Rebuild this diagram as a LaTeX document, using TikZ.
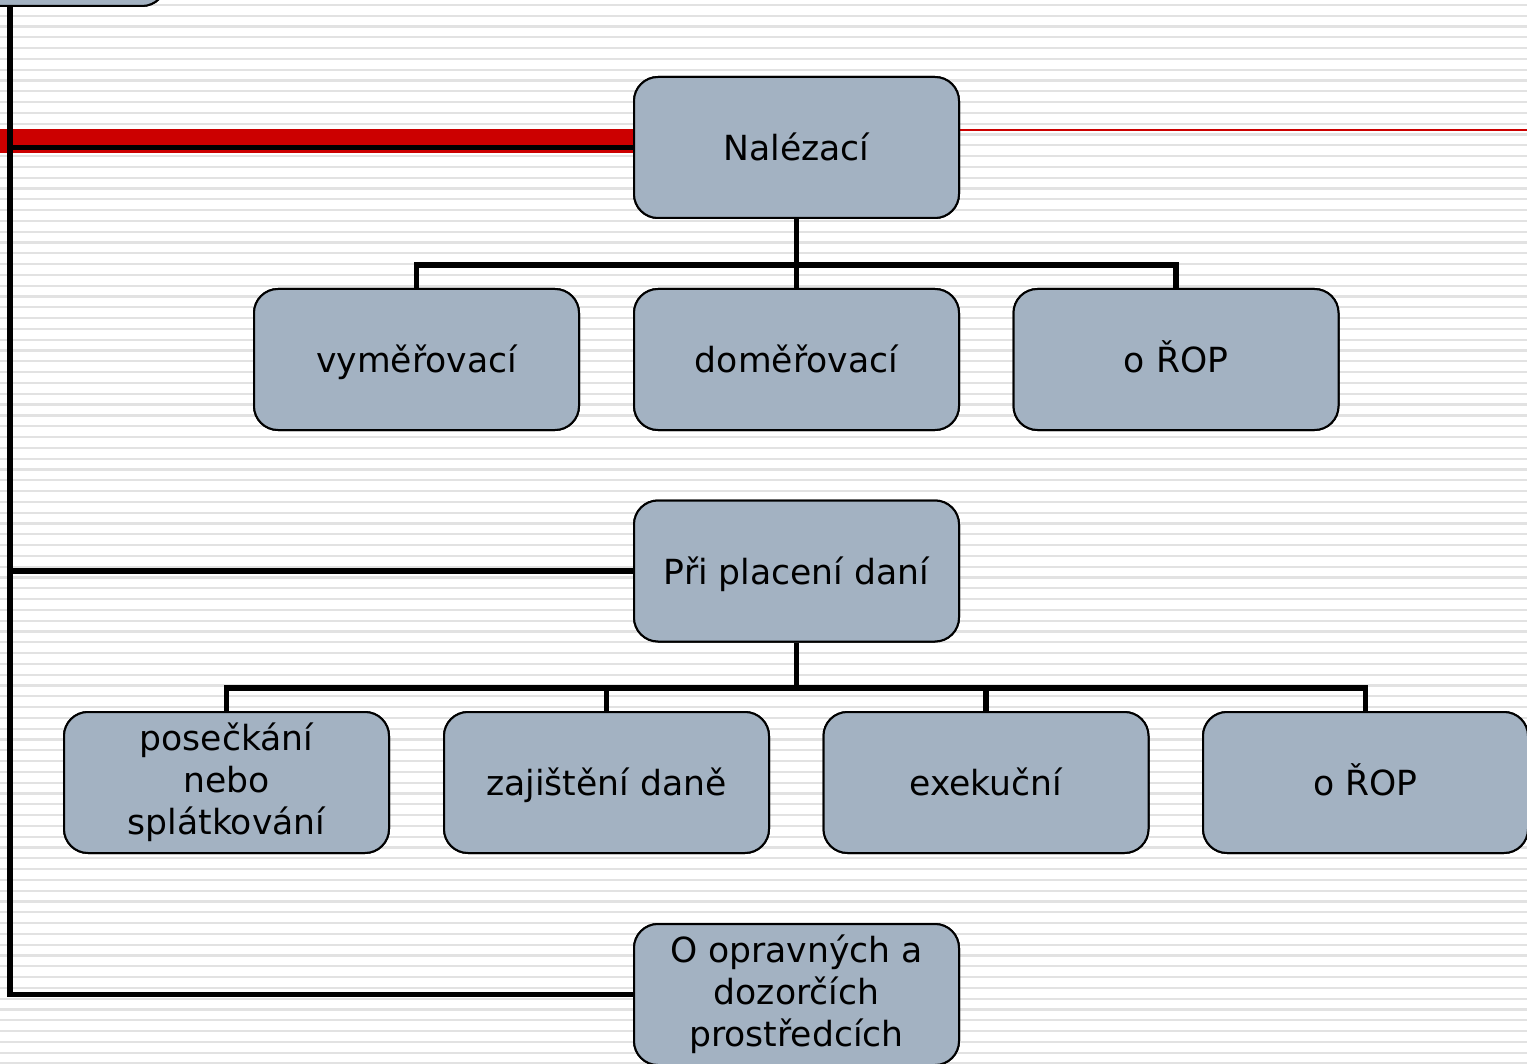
\documentclass[tikz,border=0pt]{standalone}
\usepackage{fontspec}
\setmainfont{DejaVu Sans}
\definecolor{boxfill}{RGB}{163,178,194}
\definecolor{stripe}{RGB}{226,226,226}
\definecolor{redbar}{RGB}{204,0,0}
\newcommand\bxstrut{\rule[-4pt]{0pt}{21pt}}
\newcommand\bxtopstrut{\rule[-4pt]{0pt}{25pt}}
\tikzset{
  box/.style={draw=black, line width=1pt, fill=boxfill, rounded corners=12pt,
    minimum width=162.5pt, minimum height=70.5pt, align=center, inner sep=1pt,
    font=\fontsize{17.3}{21}\selectfont,
    execute at begin node=\bxstrut, execute at end node=\bxstrut},
  multibox/.style={box, execute at begin node=\bxtopstrut},
  conn/.style={draw=black, line width=2.6pt, line join=miter},
}
\begin{document}
\begin{tikzpicture}[x=0.5pt,y=-0.5pt]
\useasboundingbox (0,0) rectangle (1527,1064);
\clip (0,0) rectangle (1527,1064);
\fill[white] (0,0) rectangle (1527,1064);
\foreach \i in {0,...,98} {
  \draw[stripe, line width=1.1pt] (0,{5+\i*10.8}) -- (1527,{5+\i*10.8});
}
% nodes
\node[box] (top) at (3.5,-64.5) {};
\node[box] (nal) at (796.5,147.5) {Nalézací};
\node[box] (vym) at (416.5,359.5) {vyměřovací};
\node[box] (dom) at (796.5,359.5) {doměřovací};
\node[box] (rop1) at (1176,359.5) {o ŘOP};
\node[box] (pri) at (796.5,571) {Při placení daní};
\node[multibox] (pos) at (226.5,782.5) {posečkání\\nebo\\splátkování};
\node[box] (zaj) at (606.5,782.5) {zajištění daně};
\node[box] (exe) at (986,782.5) {exekuční};
\node[box] (rop2) at (1365.5,782.5) {o ŘOP};
\node[multibox] (opr) at (796.5,994.5) {O opravných a\\dozorčích\\prostředcích};
\coordinate (spine) at (10,0);
\coordinate (redL) at (0,141);
\coordinate (redR) at (1527,130);
\coordinate (bus1) at (796.5,265);
\coordinate (bus2) at (796.5,688);
% red bars
\fill[redbar] (redL |- 0,129) rectangle (nal.west |- 0,153);
\draw[redbar, line width=1pt] (nal.east |- redR) -- (redR);
% connectors
\draw[conn] (spine |- top.south) |- (opr.west);
\draw[conn] (spine |- nal.west) -- (nal.west);
\draw[conn] (spine |- pri.west) -- (pri.west);
\draw[conn] (nal.south) -- (bus1);
\draw[conn] (vym.north) |- (bus1) -| (rop1.north);
\draw[conn] (bus1) -- (dom.north);
\draw[conn] (pri.south) -- (bus2);
\draw[conn] (pos.north) |- (bus2) -| (rop2.north);
\draw[conn] (zaj.north) -- (zaj.north |- bus2);
\draw[conn] (exe.north) -- (exe.north |- bus2);
% redraw nodes on top of the connectors
\node[box] at (top) {};
\node[box] at (nal) {Nalézací};
\node[box] at (vym) {vyměřovací};
\node[box] at (dom) {doměřovací};
\node[box] at (rop1) {o ŘOP};
\node[box] at (pri) {Při placení daní};
\node[multibox] at (pos) {posečkání\\nebo\\splátkování};
\node[box] at (zaj) {zajištění daně};
\node[box] at (exe) {exekuční};
\node[box] at (rop2) {o ŘOP};
\node[multibox] at (opr) {O opravných a\\dozorčích\\prostředcích};
\end{tikzpicture}
\end{document}
